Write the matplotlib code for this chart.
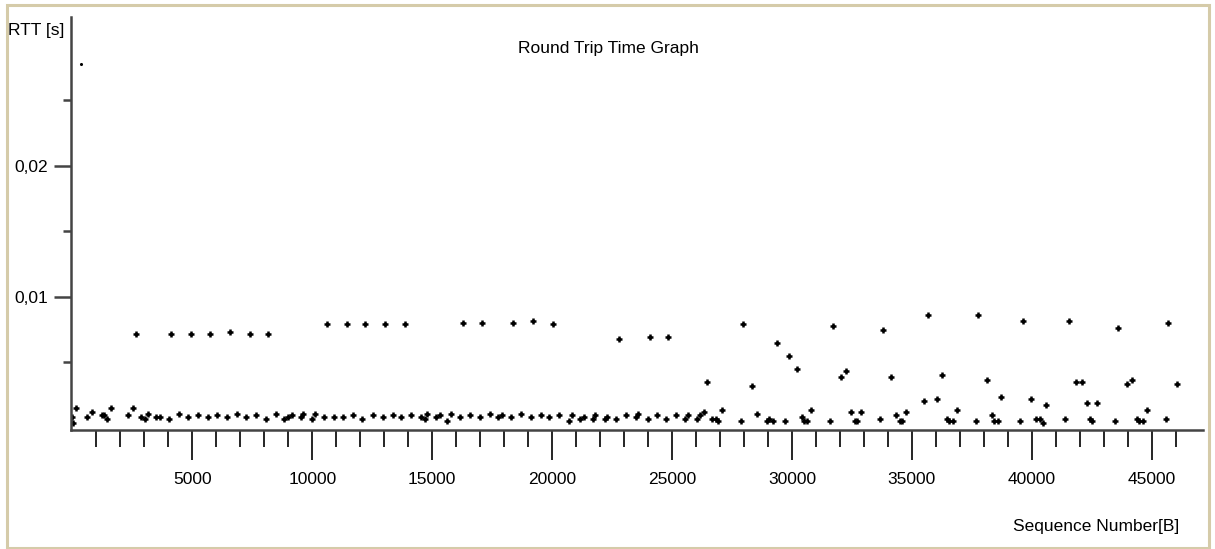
import matplotlib
matplotlib.use("Agg")
import matplotlib.pyplot as plt
from matplotlib.ticker import FixedLocator, FuncFormatter
from matplotlib.patches import Rectangle

# sequence number [B] and measured round trip time [s]
seq = [0, 20, 136, 595, 803, 1248, 1331, 1429, 1595, 2304, 2513, 2652, 2860, 3027,
       3138, 3485, 3652, 4027, 4111, 4444, 4806, 4944, 5222, 5639, 5723, 6042, 6459,
       6557, 6876, 7238, 7390, 7654, 8071, 8168, 8488, 8836, 8975, 9155, 9517, 9600,
       9975, 10128, 10503, 10601, 10920, 11281, 11434, 11712,
       12088, 12199, 12519, 12936, 13033, 13353, 13714, 13867, 14131, 14548, 14687,
       14798, 15146, 15313, 15632, 15785, 16147, 16299, 16563, 16980, 17077, 17397,
       17759, 17897, 18273, 18370, 18690, 19107, 19204, 19524, 19885, 20038, 20302,
       20718, 20816, 21177, 21316, 21691, 21788, 22205, 22303, 22678, 22776, 23095,
       23498, 23595,
       23985, 24068, 24388, 24749, 24846, 25166, 25527, 25680, 26042, 26153, 26347,
       26444, 26653, 26820, 26931, 27084, 27862, 27946, 28321, 28530, 28960, 29058,
       29211, 29363, 29724, 29877, 30197, 30405, 30503, 30628, 30808, 31587, 31698,
       32045, 32254, 32462, 32629, 32726, 32893, 33658, 33810, 34130, 34325, 34491,
       34589, 34755, 35520, 35687,
       36034, 36242, 36451, 36562, 36701, 36868, 37660, 37757, 38119, 38327, 38424,
       38591, 38730, 39522, 39620, 39981, 40189, 40342, 40454, 40606, 41385, 41537,
       41843, 42107, 42316, 42441, 42524, 42732, 43455, 43608, 43970, 44178, 44387,
       44484, 44637, 44804, 45582, 45679, 46054]
rtt = [.00079, .00038, .00148, .00079, .00117, .00094, .00094, .00064, .00148, .00094,
       .00148, .00715, .00079, .00064, .00105, .00079, .00079, .00064, .00715, .00105,
       .00079, .00715, .00094, .00079, .00715, .00094, .00079, .00731, .00105, .00079,
       .00715, .00094, .00064, .00715, .00105, .00064, .00079, .00094, .00079, .00105,
       .00064, .00105, .00079, .00789, .00079, .00079, .00789, .00094,
       .00064, .00789, .00094, .00079, .00789, .00094, .00079, .00789, .00094, .00079,
       .00064, .00105, .00079, .00094, .00050, .00105, .00079, .00802, .00094, .00079,
       .00802, .00105, .00079, .00094, .00079, .00802, .00105, .00079, .00815, .00094,
       .00079, .00789, .00094, .00050, .00094, .00064, .00079, .00064, .00094, .00064,
       .00079, .00064, .00675, .00094, .00079, .00105,
       .00064, .00690, .00094, .00064, .00690, .00094, .00064, .00094, .00064, .00094,
       .00120, .00346, .00064, .00064, .00050, .00135, .00050, .00789, .00318, .00105,
       .00050, .00064, .00050, .00647, .00050, .00545, .00446, .00079, .00050, .00050,
       .00135, .00050, .00774, .00390, .00433, .00120, .00050, .00050, .00120, .00064,
       .00743, .00390, .00094, .00050, .00050, .00120, .00204, .00858,
       .00219, .00405, .00064, .00050, .00050, .00135, .00050, .00858, .00362, .00094,
       .00050, .00050, .00234, .00050, .00815, .00219, .00064, .00064, .00033, .00176,
       .00064, .00815, .00346, .00346, .00191, .00064, .00050, .00191, .00050, .00759,
       .00331, .00362, .00064, .00050, .00050, .00135, .00064, .00802, .00331]

# single early retransmission
spike_seq = [346]
spike_rtt = [0.02774]

x_major = [5000, 10000, 15000, 20000, 25000, 30000, 35000, 40000, 45000]
x_minor = [v for v in range(1000, 46001, 1000) if v % 5000]
y_major = [0.01, 0.02]
y_minor = [0.005, 0.015, 0.025]

plt.rcParams['font.family'] = ['Liberation Sans', 'DejaVu Sans']

W, H = 1215, 549
fig = plt.figure(figsize=(W / 100, H / 100), dpi=100)

# tan window frame
fig.patches.append(Rectangle((7 / W, 1 - 548 / H), 1202 / W, 543 / H,
                             transform=fig.transFigure, fill=False,
                             edgecolor='#d5cba9', linewidth=2.2))

ax = fig.add_axes([70.7 / W, 1 - 430 / H, (1203 - 70.7) / W, (430 - 17) / H])
ax.scatter(seq, rtt, marker='+', s=20, linewidths=1.8, color='black')
ax.scatter(spike_seq, spike_rtt, marker='o', s=1.5, color='black')

ax.set_xlim(-71, 47137)
ax.set_ylim(-0.000176, 0.03135)

for side in ('top', 'right'):
    ax.spines[side].set_visible(False)
for side in ('left', 'bottom'):
    ax.spines[side].set_color('#444444')
    ax.spines[side].set_linewidth(1.8)

ax.xaxis.set_major_locator(FixedLocator(x_major))
ax.xaxis.set_minor_locator(FixedLocator(x_minor))
ax.yaxis.set_major_locator(FixedLocator(y_major))
ax.yaxis.set_minor_locator(FixedLocator(y_minor))
ax.yaxis.set_major_formatter(FuncFormatter(lambda v, p: f"{v:.2f}".replace('.', ',')))

ax.tick_params(axis='x', which='major', length=21.6, width=1.2, pad=9, labelsize=12.5,
               colors='black')
ax.tick_params(axis='x', which='minor', length=12.2, width=1.2)
ax.tick_params(axis='y', which='major', length=12.2, width=1.8, pad=4, labelsize=12.5,
               color='#444444')
ax.tick_params(axis='y', which='minor', length=6, width=1.8, color='#444444')

fig.text(608 / W, 1 - 48 / H, 'Round Trip Time Graph', ha='center', va='center',
         fontsize=12.5)
fig.text(64 / W, 1 - 31 / H, 'RTT [s]', ha='right', va='center', fontsize=12.5)
fig.text(1179 / W, 1 - 526 / H, 'Sequence Number[B]', ha='right', va='center',
         fontsize=12.5)

fig.savefig('out.png', dpi=100)
